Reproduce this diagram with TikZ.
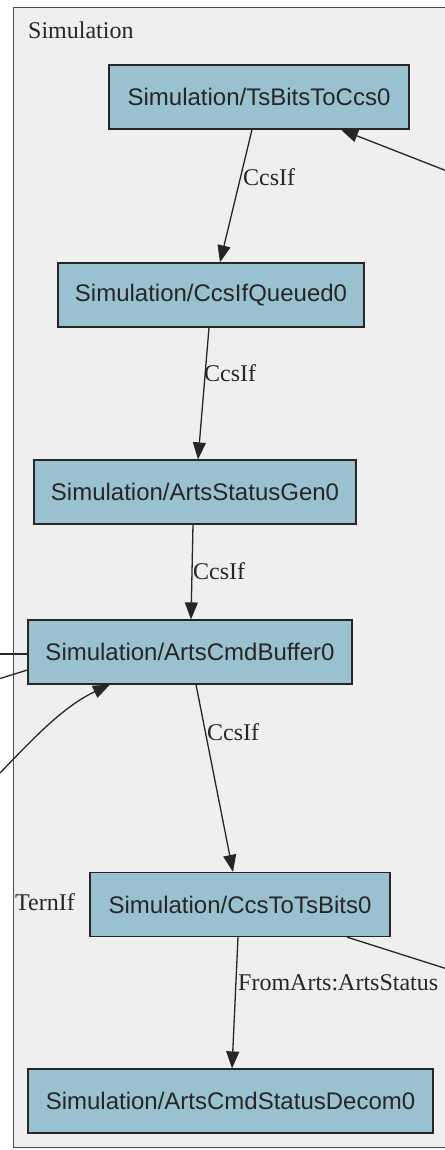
\documentclass[tikz,border=0pt]{standalone}
\usepackage{fontspec}
\setmainfont{Liberation Serif}
\setsansfont{Liberation Sans}
\usetikzlibrary{arrows.meta,calc}
\definecolor{nodeblue}{HTML}{9AC1D0}
\definecolor{clusterbg}{HTML}{EFEFEF}
\begin{document}
\begin{tikzpicture}[x=1pt,y=-1pt,
  box/.style={draw=black!85, line width=1.2pt, fill=nodeblue, minimum height=64pt, inner sep=0pt,
    font=\sffamily\fontsize{24}{28}\selectfont, text=black!85},
  lbl/.style={font=\fontsize{24}{28}\selectfont, inner sep=0pt, text=black!85},
  arr/.style={line width=1.3pt, draw=black!85, -{Triangle[length=17pt,width=13pt]}},
  ln/.style={line width=1.3pt, draw=black!85}]
\useasboundingbox (0,0) rectangle (444,1150);
\fill[white] (0,0) rectangle (444,1150);
\draw[fill=clusterbg, line width=1pt, draw=black!70] (13,8) rectangle (470,1147);
\node[lbl, anchor=west] (title) at (28,30) {Simulation};

\node[box, minimum width=300pt] (n1) at (259,97) {Simulation/TsBitsToCcs0};
\node[box, minimum width=306pt] (n2) at (211,295) {Simulation/CcsIfQueued0};
\node[box, minimum width=322pt] (n3) at (195,492) {Simulation/ArtsStatusGen0};
\node[box, minimum width=324pt] (n4) at (190,652) {Simulation/ArtsCmdBuffer0};
\node[box, minimum width=300pt] (n5) at (240,904.5) {Simulation/CcsToTsBits0};
\node[box, minimum width=405pt] (n6) at (230.5,1101) {Simulation/ArtsCmdStatusDecom0};

\coordinate (r1) at (452,173);
\coordinate (r2) at (452,970.5);
\coordinate (l1) at (0,654);
\coordinate (l2) at (0,678.5);
\coordinate (l3) at (0,773);

\draw[arr] ([xshift=-7pt]n1.south) -- ([xshift=9pt]n2.north);
\draw[arr] ([xshift=-2pt]n2.south) -- ([xshift=3pt]n3.north);
\draw[arr] ([xshift=-2pt]n3.south) -- ([xshift=1pt]n4.north);
\draw[arr] ([xshift=6pt]n4.south) -- ([xshift=-7pt]n5.north);
\draw[arr] ([xshift=-2pt]n5.south) -- ([xshift=1.5pt]n6.north);

\draw[arr] (r1) -- ([xshift=82pt]n1.south);
\draw[ln] ([xshift=107pt]n5.south) -- (r2);
\draw[ln] (l1) -- ([yshift=-2pt]n4.west);
\draw[ln] (l2) -- ([yshift=-18pt]n4.west);
\draw[arr] (l3) .. controls (30,742) and (62,707) .. ([xshift=-80pt]n4.south);

\node[lbl, anchor=west] (c1) at (243,177) {CcsIf};
\node[lbl, anchor=west] (c2) at (204,373) {CcsIf};
\node[lbl, anchor=west] (c3) at (193,571) {CcsIf};
\node[lbl, anchor=west] (c4) at (207,732) {CcsIf};
\node[lbl, anchor=west] (c5) at (238,983) {FromArts:ArtsStatus};
\node[lbl, anchor=west] (tern) at (15,902) {TernIf};
\end{tikzpicture}
\end{document}
